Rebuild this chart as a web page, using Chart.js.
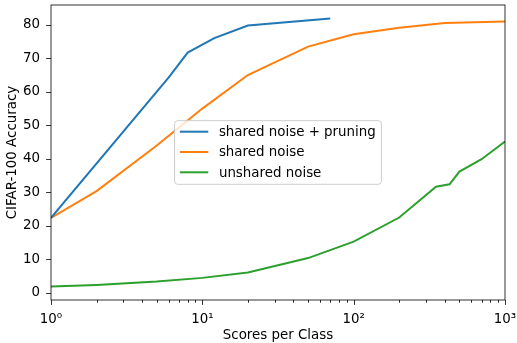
<!DOCTYPE html>
<html>
<head>
<meta charset="utf-8">
<script src="https://cdn.jsdelivr.net/npm/chart.js@4/dist/chart.umd.min.js"></script>
<style>
  html, body { margin: 0; padding: 0; background: #fff; }
  #wrap { width: 517px; height: 343px; }
</style>
</head>
<body>
<div id="wrap"><canvas id="c" width="517" height="343"></canvas></div>
<script>
// ---- data ----
const seriesNames = ["shared noise + pruning", "shared noise", "unshared noise"];
const seriesColors = ["#1f77b4", "#ff7f0e", "#2ca02c"];

const pruneX = [1, 6, 8, 12, 20, 70];
const pruneY = [22.4, 64.3, 71.7, 76.0, 79.8, 81.9];

const sharedX = [1, 2, 5, 10, 20, 50, 100, 200, 400, 1000];
const sharedY = [22.4, 30.4, 44.0, 55.0, 65.0, 73.5, 77.2, 79.1, 80.5, 81.0];

const unsharedX = [1, 2, 5, 10, 20, 50, 100, 200, 350, 430, 500, 700, 1000];
const unsharedY = [1.9, 2.4, 3.4, 4.5, 6.1, 10.4, 15.3, 22.5, 31.7, 32.4, 36.2, 39.9, 45.2];

const xMajorTicks = [1, 10, 100, 1000];
const xTickLabels = ["10\u2070", "10\u00B9", "10\u00B2", "10\u00B3"];
const yTicks = [0, 10, 20, 30, 40, 50, 60, 70, 80];

const xTitle = "Scores per Class";
const yTitle = "CIFAR-100 Accuracy";

// ---- build ----
function pts(xs, ys) { return xs.map((x, i) => ({ x: x, y: ys[i] })); }
const allX = [pruneX, sharedX, unsharedX];
const allY = [pruneY, sharedY, unsharedY];

const FONT = "DejaVu Sans";
const FS = 13.4;

const datasets = seriesNames.map((n, i) => ({
  label: n,
  data: pts(allX[i], allY[i]),
  borderColor: seriesColors[i],
  backgroundColor: seriesColors[i],
  borderWidth: 2,
  pointRadius: 0,
  tension: 0,
  fill: false
}));

const decorPlugin = {
  id: "decor",
  afterDraw(chart) {
    const ctx = chart.ctx;
    const a = chart.chartArea;
    const xs = chart.scales.x, ys = chart.scales.y;
    ctx.save();
    ctx.strokeStyle = "#000";
    ctx.lineWidth = 0.8;
    // frame
    ctx.strokeRect(a.left, a.top, a.right - a.left, a.bottom - a.top);
    // x ticks
    ctx.beginPath();
    for (let d = 1; d <= 1000; d *= 10) {
      for (let m = 1; m <= 9; m++) {
        const v = d * m;
        if (v > 1000) break;
        const px = Math.round(xs.getPixelForValue(v)) + 0.5;
        const len = (m === 1) ? 4.9 : 2.8;
        ctx.moveTo(px, a.bottom);
        ctx.lineTo(px, a.bottom + len);
      }
    }
    // y ticks
    yTicks.forEach(v => {
      const py = Math.round(ys.getPixelForValue(v)) + 0.5;
      ctx.moveTo(a.left, py);
      ctx.lineTo(a.left - 4.9, py);
    });
    ctx.stroke();

    // legend (matplotlib-like, centered in axes)
    ctx.font = FS + "px '" + FONT + "'";
    let tw = 0;
    seriesNames.forEach(n => { tw = Math.max(tw, ctx.measureText(n).width); });
    const padL = 5.3, lineLen = 28.4, gap = 10.6, padR = 5.6;
    const rowH = 20.3, padT = 11, padB = 12;
    const bw = padL + lineLen + gap + tw + padR;
    const bh = padT + rowH * (seriesNames.length - 1) + padB;
    const cx = (a.left + a.right) / 2, cy = (a.top + a.bottom) / 2;
    const bx = cx - bw / 2, by = cy - bh / 2;
    const r = 3;
    ctx.beginPath();
    ctx.moveTo(bx + r, by);
    ctx.lineTo(bx + bw - r, by);
    ctx.arcTo(bx + bw, by, bx + bw, by + r, r);
    ctx.lineTo(bx + bw, by + bh - r);
    ctx.arcTo(bx + bw, by + bh, bx + bw - r, by + bh, r);
    ctx.lineTo(bx + r, by + bh);
    ctx.arcTo(bx, by + bh, bx, by + bh - r, r);
    ctx.lineTo(bx, by + r);
    ctx.arcTo(bx, by, bx + r, by, r);
    ctx.closePath();
    ctx.fillStyle = "rgba(255,255,255,0.8)";
    ctx.fill();
    ctx.strokeStyle = "#cccccc";
    ctx.lineWidth = 1;
    ctx.stroke();
    ctx.textBaseline = "middle";
    ctx.textAlign = "left";
    seriesNames.forEach((n, i) => {
      const ry = by + padT + i * rowH;
      ctx.strokeStyle = seriesColors[i];
      ctx.lineWidth = 2;
      ctx.beginPath();
      ctx.moveTo(bx + padL, ry);
      ctx.lineTo(bx + padL + lineLen, ry);
      ctx.stroke();
      ctx.fillStyle = "#000";
      ctx.fillText(n, bx + padL + lineLen + gap, ry + 1);
    });
    ctx.restore();
  }
};

new Chart(document.getElementById("c"), {
  type: "line",
  data: { datasets: datasets },
  options: {
    responsive: false,
    animation: false,
    devicePixelRatio: 1,
    layout: { padding: { left: 0, right: 12, top: 5, bottom: 0 } },
    plugins: { legend: { display: false }, tooltip: { enabled: false } },
    scales: {
      x: {
        type: "logarithmic",
        min: 1, max: 1000,
        border: { display: false },
        grid: { display: true, drawOnChartArea: false, drawTicks: true, tickLength: 5, tickColor: "rgba(0,0,0,0)" },
        afterBuildTicks(scale) {
          scale.ticks = xMajorTicks.map(v => ({ value: v }));
        },
        ticks: {
          autoSkip: false,
          maxRotation: 0,
          padding: 6,
          color: "#000",
          font: { family: FONT, size: FS },
          callback(value) {
            const i = xMajorTicks.indexOf(value);
            return i >= 0 ? xTickLabels[i] : "";
          }
        },
        title: { display: true, text: xTitle, color: "#000", font: { family: FONT, size: FS }, padding: { top: 0, bottom: -1 } },
        afterFit(scale) { scale.height = 43; scale.paddingLeft = 0; scale.paddingRight = 0; }
      },
      y: {
        type: "linear",
        min: -2.1, max: 85.9,
        border: { display: false },
        grid: { display: true, drawOnChartArea: false, drawTicks: true, tickLength: 5, tickColor: "rgba(0,0,0,0)" },
        afterBuildTicks(scale) {
          scale.ticks = yTicks.map(v => ({ value: v }));
        },
        ticks: {
          padding: 6,
          color: "#000",
          font: { family: FONT, size: FS },
          callback(value) { return String(value); }
        },
        title: { display: true, text: yTitle, color: "#000", font: { family: FONT, size: FS }, padding: { top: 4, bottom: 0 } },
        afterFit(scale) { scale.width = 51; scale.paddingTop = 0; scale.paddingBottom = 0; }
      }
    }
  },
  plugins: [decorPlugin]
});
</script>
</body>
</html>
